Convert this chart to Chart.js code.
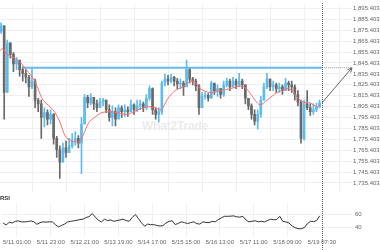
<!DOCTYPE html>
<html>
<head>
<meta charset="utf-8">
<script src="https://cdn.jsdelivr.net/npm/chart.js@4.4.1/dist/chart.umd.min.js"></script>
<style>
  html,body{margin:0;padding:0;background:#fff;width:380px;height:250px;overflow:hidden;font-family:"Liberation Sans",Arial,sans-serif}
  #main{position:absolute;left:0;top:0}
  #rsi{position:absolute;left:0;top:197px}
  .rsi-label{position:absolute;left:0;top:195px;font-size:6px;font-weight:bold;color:#333}
  .wm{position:absolute;left:142px;top:119px;font:bold 12px "Liberation Sans",Arial,sans-serif;color:#ebebeb;letter-spacing:-.2px}
</style>
</head>
<body>
<canvas id="main" width="380" height="197"></canvas>
<canvas id="rsi" width="380" height="53"></canvas>
<div class="wm">What2Trade</div>
<div class="rsi-label">RSI</div>
<script>
/* ── Data (hours from 5/11 01:00, 2h candles) ── */
const FIRST_OPEN = 1874.3;
const CLOSE = [1879.5,1818.3,1863.8,1853.3,1844.5,1848.0,1839.3,1835.8,1832.3,1823.5,
  1828.8,1811.3,1807.8,1795.5,1799.9,1793.8,1798.2,1776.3,1765.8,1754.4,
  1767.5,1763.2,1769.3,1773.7,1776.3,1771.9,1789.4,1813.9,1808.7,1813.9,
  1807.8,1804.3,1809.5,1811.3,1802.5,1795.5,1800.8,1793.8,1804.3,1800.8,
  1802.5,1800.8,1806.9,1802.5,1806.0,1807.8,1804.3,1813.0,1821.8,1802.5,
  1798.2,1800.8,1827.0,1830.5,1828.8,1832.3,1828.8,1826.2,1827.0,1823.5,
  1839.3,1830.5,1828.8,1824.4,1804.3,1814.8,1815.7,1813.0,1827.0,1820.0,
  1821.8,1816.5,1825.3,1828.8,1823.5,1828.8,1825.3,1828.8,1825.3,1813.0,
  1806.0,1798.2,1792.0,1798.2,1811.3,1823.5,1830.5,1823.5,1825.3,1821.8,
  1823.5,1820.0,1827.0,1825.3,1823.5,1816.5,1809.5,1776.3,1807.8,1804.3,
  1800.8,1802.5,1805.2,1808.7];
const HIGH = [1882.2,1879.5,1866.4,1863.8,1855.0,1850.6,1846.3,1841.9,1839.3,1834.0,
  1840.2,1830.5,1813.0,1811.3,1804.3,1802.5,1802.5,1799.0,1778.0,1769.3,
  1771.9,1773.7,1776.3,1780.7,1782.4,1778.9,1795.5,1816.5,1815.7,1817.4,
  1813.0,1811.3,1813.0,1813.0,1811.3,1806.9,1806.0,1804.3,1806.9,1806.0,
  1806.9,1805.2,1811.3,1807.8,1811.3,1811.3,1809.5,1816.5,1824.4,1822.5,
  1804.3,1804.3,1828.8,1834.9,1834.0,1834.9,1833.2,1831.4,1830.5,1828.8,
  1848.0,1841.0,1832.3,1830.5,1825.5,1818.3,1818.3,1817.4,1828.8,1825.3,
  1825.3,1821.8,1828.8,1831.4,1830.5,1832.3,1830.5,1835.8,1830.5,1825.3,
  1813.0,1807.8,1802.5,1802.5,1814.8,1827.0,1835.8,1830.5,1828.8,1827.0,
  1827.0,1825.3,1831.4,1828.8,1828.8,1825.3,1820.0,1811.3,1811.3,1820.0,
  1807.8,1807.8,1808.7,1811.3];
const LOW = [1872.5,1793.8,1818.3,1849.8,1837.5,1839.3,1833.2,1828.8,1827.0,1814.8,
  1821.8,1804.3,1800.8,1776.3,1786.8,1788.5,1789.4,1771.0,1758.8,1739.5,
  1754.4,1758.8,1763.2,1767.5,1770.1,1767.5,1743.9,1789.4,1804.3,1806.9,
  1802.5,1800.8,1804.3,1806.0,1799.9,1792.0,1787.7,1787.7,1796.4,1795.5,
  1796.4,1796.4,1802.5,1798.2,1800.8,1802.5,1800.8,1802.5,1811.3,1798.2,
  1793.8,1791.1,1798.2,1824.4,1825.3,1827.0,1824.4,1821.8,1821.8,1815.7,
  1830.5,1827.0,1825.3,1820.0,1798.2,1811.3,1812.1,1810.4,1813.0,1816.5,
  1814.8,1813.0,1814.8,1823.5,1820.0,1823.5,1821.8,1823.5,1821.8,1807.8,
  1802.5,1793.8,1788.5,1785.0,1795.5,1811.3,1821.8,1820.0,1820.0,1818.3,
  1818.3,1816.5,1821.8,1820.0,1818.3,1811.3,1806.0,1771.9,1774.5,1802.5,
  1797.3,1798.2,1800.8,1804.3];
const RSI = [47,44,48,47,49.5,50,48.6,48.5,49,50,
  48.6,45,47.4,48.6,48.2,48.6,48.6,44.5,41.2,43.3,
  45.3,48.5,49.4,50.2,51,52,52.6,55,56.5,60.9,
  55.6,51,48.6,52.6,50.5,51.4,49.4,50.5,51.4,52.6,
  50.5,49.4,55,59.6,53.5,47.4,42.1,45.3,44.5,44.5,
  43.3,42.5,43,47,49.4,50.2,44.5,46.5,48.6,47.5,
  46.1,47.5,48.6,46,45.3,48.6,47.8,47.4,49.4,48.6,
  52,54.5,56.8,56.8,57,57.5,56,55.6,56.8,51.4,
  48.6,49.5,50.2,48.6,49.5,48.6,50.5,52.6,51.8,52,
  56.8,49.4,48.5,47,42.5,40,38.4,38.5,40,46,
  49.4,49,50.5,57.5];
const SMA_HOURS = [-9.7,-7.8,-5.2,-1.3,3.2,7.8,11.7,14.9,18.1,22.7,25.9,29.1,31.7,33.7,36.2,39.5,42.1,44,47.9,52.4,
  56.3,60.8,66,70.6,74.4,79.6,86.1,90.6,94.5,99,103.6,107.4,112,115.9,119.7,126.2,132.7,139.2,146.9,150.8,
  155.3,158.6,163.1,169.6,176,179.3,182.5,186.4,190.9,195.5,197.4];
const SMA = [1856.8,1858.5,1853.3,1850.6,1846.3,1838.4,1831.4,1821.8,1811.3,1805.2,1799.9,1791.1,1780.7,1776.3,1774.5,1772.8,1773.7,1778.9,1791.1,1796.4,
  1799.9,1800.8,1799.9,1798.2,1799.0,1802.5,1805.2,1804.3,1802.5,1813.0,1820.0,1822.7,1827.0,1828.8,1821.8,1818.3,1820.0,1821.8,1824.4,1820.0,
  1811.3,1806.9,1811.3,1818.3,1821.8,1820.0,1813.9,1809.5,1808.7,1805.2,1806.9];

const X_TICKS  = [0,22,44,66,88,110,132,154,176,198.5];
const X_LABELS = ['5/11 01:00','5/11 23:00','5/12 21:00','5/13 19:00','5/14 17:00','5/15 15:00','5/16 13:00','5/17 11:00','5/18 09:00','5/19 07:30'];
const PRICE_TICKS = [1735.403,1745.403,1755.403,1765.403,1775.403,1785.403,1795.403,1805.403,1815.403,1825.403,1835.403,1845.403,1855.403,1865.403,1875.403,1885.403,1895.403];
const RSI_TICKS = [40,60];

const RESISTANCE = 1841.0, RES_FROM = 5, NOW_HOUR = 198.5, RES_TO = 218;
const ARROW_FROM = 1808.7;

/* ── Helpers ── */
const FIRST_HOUR = -9, STEP = 2;
const HOURS = CLOSE.map((_, i) => FIRST_HOUR + STEP * i);
const OPEN  = CLOSE.map((c, i) => i ? CLOSE[i-1] : FIRST_OPEN);
const UP = '#5cbcee', DOWN = '#6a6a6a';
const colors = CLOSE.map((c, i) => c >= OPEN[i] ? UP : DOWN);
const FONT = {family:'"Liberation Sans", Arial, sans-serif', size:6};
const X_MIN = -9.7, X_MAX = 218;
const GRID = '#efefef';

const xAxis = (showLabels) => ({
  type:'linear', min:X_MIN, max:X_MAX, offset:false,
  afterBuildTicks: s => { s.ticks = X_TICKS.map(v => ({value:v})); },
  ticks:{display:showLabels, autoSkip:false, maxRotation:0, padding:3, font:FONT, color:'#666', callback:(v,i) => X_LABELS[i]},
  grid:{color:GRID, drawTicks:false}, border:{display:false},
  afterFit: s => { s.height = showLabels ? 14 : 0; }
});

/* vertical "now" line + arrowhead */
const marks = {
  id:'marks',
  afterDatasetsDraw(chart, args, opts) {
    const {ctx, scales:{x, y}} = chart;
    const nx = Math.round(x.getPixelForValue(NOW_HOUR)) + 0.5;
    ctx.save();
    ctx.strokeStyle = '#4e6270'; ctx.lineWidth = 1; ctx.setLineDash([1,1]);
    ctx.beginPath(); ctx.moveTo(nx, opts.top); ctx.lineTo(nx, chart.height); ctx.stroke();
    if (opts.arrow) {
      ctx.setLineDash([]);
      const x1 = x.getPixelForValue(NOW_HOUR), y1 = y.getPixelForValue(ARROW_FROM);
      const x2 = x.getPixelForValue(RES_TO),  y2 = y.getPixelForValue(RESISTANCE);
      const a = Math.atan2(y2 - y1, x2 - x1), L = 5;
      ctx.strokeStyle = '#666';
      ctx.beginPath();
      ctx.moveTo(x2 - L*Math.cos(a - 0.45), y2 - L*Math.sin(a - 0.45));
      ctx.lineTo(x2, y2);
      ctx.lineTo(x2 - L*Math.cos(a + 0.45), y2 - L*Math.sin(a + 0.45));
      ctx.stroke();
    }
    ctx.restore();
  }
};

/* ── Price panel ── */
new Chart(document.getElementById('main'), {
  type:'bar',
  data:{datasets:[
    {type:'line', data:SMA_HOURS.map((h,i) => ({x:h, y:SMA[i]})), borderColor:'#ff6b6b', borderWidth:1, pointRadius:0, tension:0.3},
    {type:'line', data:[{x:RES_FROM, y:RESISTANCE},{x:NOW_HOUR, y:RESISTANCE}], borderColor:'#62bbea', borderWidth:2, pointRadius:0},
    {type:'line', data:[{x:NOW_HOUR, y:RESISTANCE},{x:RES_TO, y:RESISTANCE}], borderColor:'#8896a0', borderWidth:1, borderDash:[1,1], pointRadius:0},
    {type:'line', data:[{x:NOW_HOUR, y:ARROW_FROM},{x:RES_TO, y:RESISTANCE}], borderColor:'#666', borderWidth:1, pointRadius:0},
    {type:'bar', data:HOURS.map((h,i) => ({x:h, y:[LOW[i], HIGH[i]]})), backgroundColor:colors, barThickness:1, grouped:false},
    {type:'bar', data:HOURS.map((h,i) => ({x:h, y:[OPEN[i], CLOSE[i]]})), backgroundColor:colors, barThickness:2, grouped:false, minBarLength:1}
  ]},
  options:{
    responsive:false, animation:false, devicePixelRatio:1,
    layout:{padding:0},
    plugins:{legend:{display:false}, tooltip:{enabled:false}, marks:{top:3, arrow:true}},
    scales:{
      x: xAxis(false),
      y:{position:'right', min:1726.7, max:1898.9,
        afterBuildTicks: s => { s.ticks = PRICE_TICKS.map(v => ({value:v})); },
        ticks:{font:FONT, color:'#666', padding:1, callback: v => v.toLocaleString('en-US',{minimumFractionDigits:3, maximumFractionDigits:3})},
        grid:{color:GRID, drawTicks:false}, border:{display:false},
        afterFit: s => { s.width = 28; }}
    }
  },
  plugins:[marks]
});

/* ── RSI panel ── */
new Chart(document.getElementById('rsi'), {
  type:'line',
  data:{datasets:[
    {data:HOURS.map((h,i) => ({x:h, y:RSI[i]})), borderColor:'#333', borderWidth:1, pointRadius:0, tension:0}
  ]},
  options:{
    responsive:false, animation:false, devicePixelRatio:1,
    layout:{padding:0},
    plugins:{legend:{display:false}, tooltip:{enabled:false}, marks:{top:0, arrow:false}},
    scales:{
      x: xAxis(true),
      y:{position:'right', min:27.7, max:75.6,
        afterBuildTicks: s => { s.ticks = RSI_TICKS.map(v => ({value:v})); },
        ticks:{font:FONT, color:'#666', padding:3},
        grid:{color:GRID, drawTicks:false}, border:{display:false},
        afterFit: s => { s.width = 28; }}
    }
  },
  plugins:[marks]
});
</script>
</body>
</html>
